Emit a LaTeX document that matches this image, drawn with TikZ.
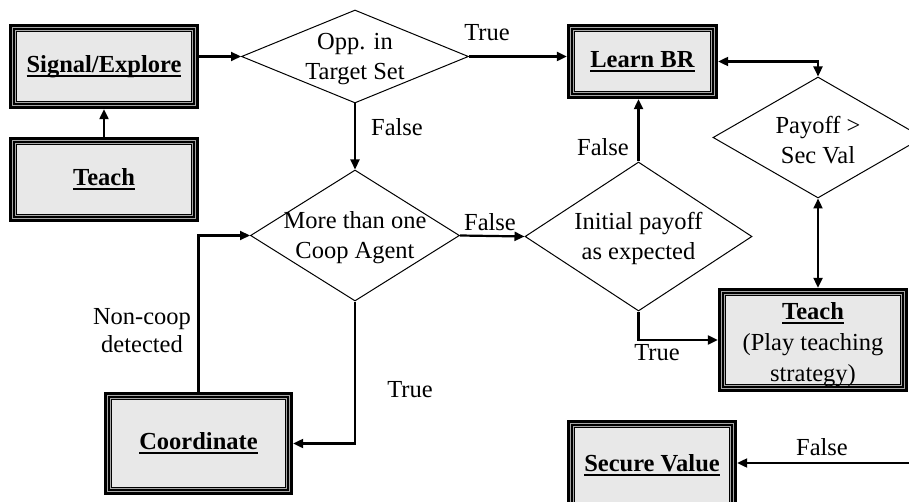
\documentclass[tikz,border=0pt]{standalone}
\usepackage{fontspec}
\setmainfont{Liberation Serif}
\usetikzlibrary{shapes.geometric,arrows.meta}
\definecolor{boxfill}{HTML}{E8E8E8}
\definecolor{framegray}{HTML}{A8A8A8}
\newcommand\ulb[1]{\setbox0\hbox{\textbf{#1}}\rlap{\rule[-4.5pt]{\wd0}{2.2pt}}\box0}
\tikzset{
  tribox/.style={rectangle, inner sep=0pt, fill=black, align=center,
    font=\fontsize{24.5}{31}\selectfont,
    path picture={
      \foreach \d/\c in {3/framegray,4/black,6/framegray,7/black,8/boxfill}{
        \fill[\c] ([shift={(\d pt,-\d pt)}]path picture bounding box.north west)
          rectangle ([shift={(-\d pt,\d pt)}]path picture bounding box.south east);}
    }},
  dec/.style={diamond, draw, line width=1pt, inner sep=0pt},
  dtext/.style={inner sep=0pt, align=center, font=\fontsize{24.5}{30}\selectfont},
  conn/.style={line width=2.2pt, -{Triangle[length=10pt,width=9pt]}},
  conntwo/.style={line width=2.2pt, {Triangle[length=10pt,width=9pt]}-{Triangle[length=10pt,width=9pt]}},
  lbl/.style={inner sep=0pt, align=center, font=\fontsize{24.5}{28}\selectfont}
}
\begin{document}
\begin{tikzpicture}[x=1pt,y=-1pt]
\useasboundingbox (0,0) rectangle (909,502);
\clip (0,0) rectangle (909,502);
% boxes
\node[tribox, minimum width=190pt, minimum height=85pt] (sig) at (104,66.5) {\ulb{Signal/Explore}};
\node[tribox, minimum width=190pt, minimum height=85pt] (teachA) at (104,179.5) {\ulb{Teach}};
\node[tribox, minimum width=189pt, minimum height=103pt] (coord) at (198.5,443.5) {\ulb{Coordinate}};
\node[tribox, minimum width=151pt, minimum height=75pt] (learn) at (642.5,61.5) {\ulb{Learn BR}};
\node[tribox, minimum width=190pt, minimum height=104pt] (teachB) at (813,340) {};
\node[dtext, font=\fontsize{24.5}{31}\selectfont] (teachBt) at (813,345) {\ulb{Teach}\\(Play teaching\\strategy)};
\node[tribox, minimum width=170pt, minimum height=90pt] (secure) at (652,465) {\ulb{Secure Value}};
% decisions
\node[dec, minimum width=227pt, minimum height=93pt] (opp) at (355,56.5) {};
\node[dtext] (oppt) at (355,59) {Opp. in\\Target Set};
\node[dec, minimum width=209pt, minimum height=131pt] (more) at (355,235.5) {};
\node[dtext] (moret) at (355,238) {More than one\\Coop Agent};
\node[dec, minimum width=227pt, minimum height=149pt] (init) at (638.5,236.5) {};
\node[dtext] (initt) at (638.5,238) {Initial payoff\\as expected};
\node[dec, minimum width=210pt, minimum height=121pt] (pay) at (818,137.5) {};
\node[dtext] (payt) at (818,140) {Payoff {>}\\Sec Val};
\coordinate (edge) at (911,463);
% connectors
\draw[conn] (teachA.north) -- (sig.south);
\draw[conn] (sig.east |- opp.west) -- (opp.west);
\draw[conn] (opp.east) -- (opp.east -| learn.west);
\draw[conn] (opp.south) -- (more.north);
\draw[conn] (more.south) |- (coord.east);
\draw[conn] (coord.north) |- (more.west);
\draw[conn] (more.east) -- (init.west);
\draw[conn] (init.north) -- (init.north |- learn.south);
\draw[conn] (init.south) |- (teachB.west);
\draw[conntwo] (pay.south) -- (pay.south |- teachB.north);
\draw[conntwo] (learn.east) -| (pay.north);
\draw[conn] (edge) -- (edge -| secure.east);
% labels
\node[lbl] (l1) at (487,33) {True};
\node[lbl] (l2) at (397,127) {False};
\node[lbl] (l3) at (490,222) {False};
\node[lbl] (l4) at (603,147) {False};
\node[lbl] (l5) at (657,353) {True};
\node[lbl] (l6) at (410,390) {True};
\node[lbl] (l7) at (142,331) {Non-coop\\detected};
\node[lbl] (l8) at (822,447) {False};
\end{tikzpicture}
\end{document}
